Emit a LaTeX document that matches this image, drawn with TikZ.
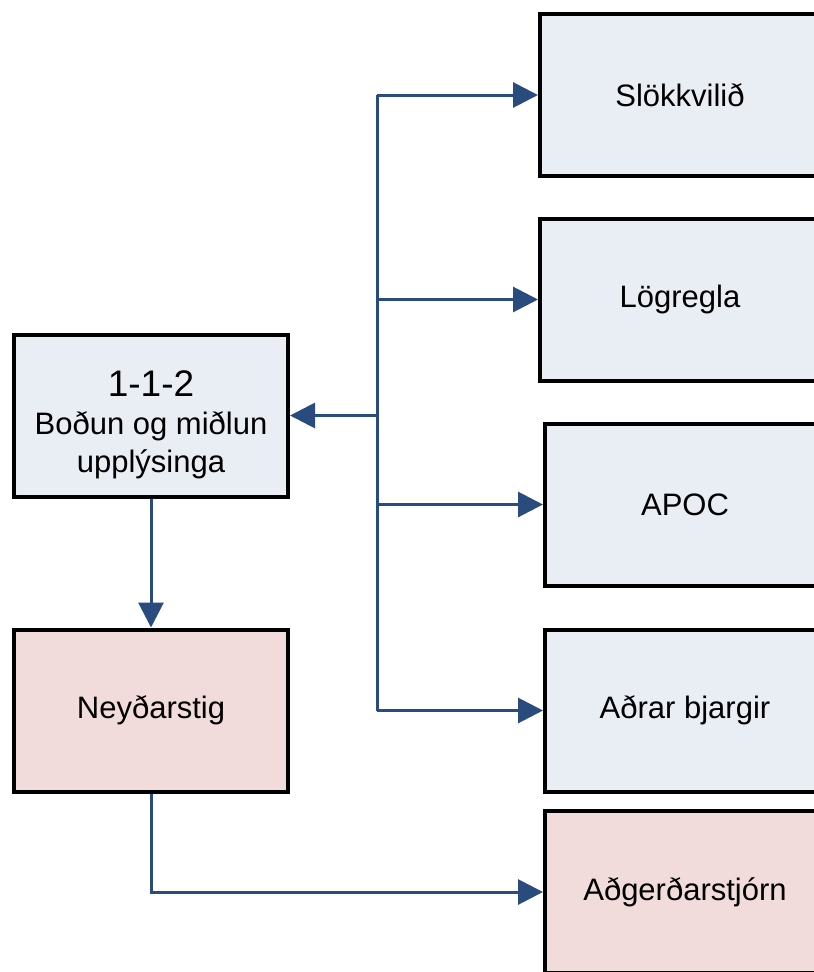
\documentclass[tikz,border=0pt]{standalone}
\usepackage{fontspec}
\setmainfont{Liberation Sans}
\usetikzlibrary{arrows.meta}
\definecolor{boxblue}{HTML}{E9EDF4}
\definecolor{boxpink}{HTML}{F2DCDB}
\definecolor{wireblue}{HTML}{2A4B7E}

\begin{document}
\begin{tikzpicture}[x=1pt,y=-1pt,
  box/.style={draw=black,line width=4pt,inner sep=0pt,align=center,
    minimum height=162pt,font=\fontsize{31}{38}\selectfont},
  bluebox/.style={box,fill=boxblue},
  pinkbox/.style={box,fill=boxpink},
  wire/.style={draw=wireblue,line width=3pt},
  link/.style={wire,-{Triangle[length=25pt,width=25pt]}}]
  \useasboundingbox (0,0) rectangle (814,972);
  \clip (0,0) rectangle (814,972);

  \node[bluebox,minimum width=274pt] (1) at (151,415.5)
    {\rule{0pt}{44pt}{\fontsize{37}{44}\selectfont 1-1-2}\\Boðun og miðlun\\upplýsinga};
  \node[pinkbox,minimum width=274pt] (2) at (151,710.5) {Neyðarstig};
  \node[bluebox,minimum width=280pt] (3) at (680,95) {Slökkvilið};
  \node[bluebox,minimum width=280pt] (4) at (680,299.5) {Lögregla};
  \node[bluebox,minimum width=280pt] (5) at (685,504.5) {APOC};
  \node[bluebox,minimum width=280pt] (6) at (685,710.5) {Aðrar bjargir};
  \node[pinkbox,minimum width=280pt] (7) at (685,892) {Aðgerðarstjórn};

  \coordinate (t) at (377,0);
  \draw[wire] (3.west -| t) -- (6.west -| t);
  \draw[link] (3.west -| t) -- (3.west);
  \draw[link] (4.west -| t) -- (4.west);
  \draw[link] (5.west -| t) -- (5.west);
  \draw[link] (6.west -| t) -- (6.west);
  \draw[link] (1.east -| t) -- (1.east);
  \draw[link] (1.south) -- (2.north);
  \draw[link] (2.south) |- (7.west);
\end{tikzpicture}
\end{document}
